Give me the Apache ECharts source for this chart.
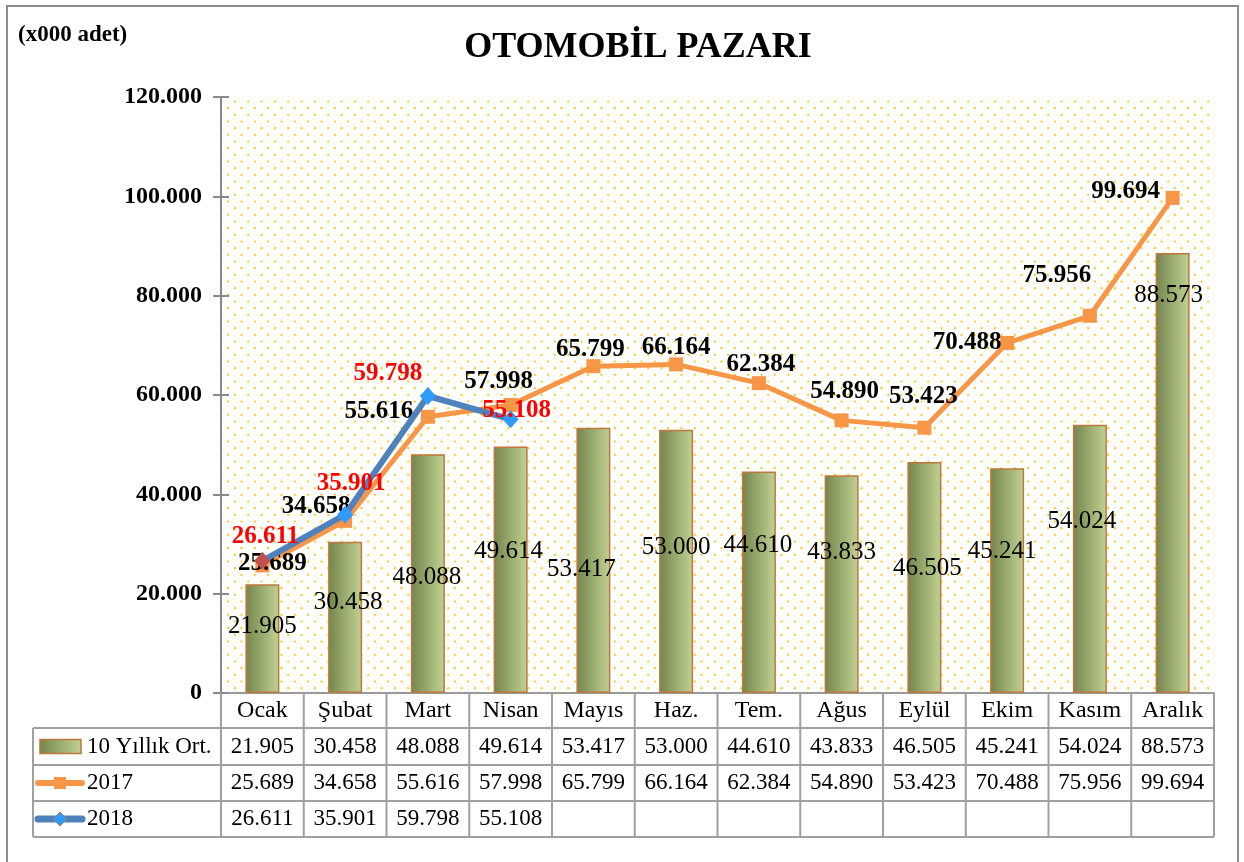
<!DOCTYPE html>
<html>
<head>
<meta charset="utf-8">
<script src="https://cdn.jsdelivr.net/npm/echarts@6/dist/echarts.min.js"></script>
<style>
  html, body { margin: 0; padding: 0; background: #fff; }
  #chart { width: 1244px; height: 862px; }
</style>
</head>
<body>
<div id="chart"></div>
<script>
// data (adet, x000 shown on axis)
const months = ['Ocak', 'Şubat', 'Mart', 'Nisan', 'Mayıs', 'Haz.', 'Tem.', 'Ağus', 'Eylül', 'Ekim', 'Kasım', 'Aralık'];
const avg10 = [21905, 30458, 48088, 49614, 53417, 53000, 44610, 43833, 46505, 45241, 54024, 88573];
const sales2017 = [25689, 34658, 55616, 57998, 65799, 66164, 62384, 54890, 53423, 70488, 75956, 99694];
const sales2018 = [26611, 35901, 59798, 55108];
const seriesNames = ['10 Yıllık Ort.', '2017', '2018'];
const yMin = 0, yMax = 120000, yStep = 20000;

// label nudges (labels were hand-placed in the original)
const barLabelOffset = [[0, 42], [3, 61], [-1, 123], [-2, 105], [-12, 142], [0, 118], [-1, 74], [0, 77], [3, 106], [-5, 83], [-8, 97], [-4, 42]];
const lbl2017Offset = [[10, -2], [-29, -14], [-49, -5], [-12, -23], [-3, -17], [0, -17], [2, -19], [3, -29], [-1, -31], [-40, 0], [-33, -40], [-47, -6]];
const lbl2018Offset = [[3, -24], [6, -31], [-40, -22], [6, -9]];

const FONT = '"Liberation Serif", "DejaVu Serif", serif';
const fmt = v => String(v).replace(/\B(?=(\d{3})+(?!\d))/g, '.');

// dotted plot background
function dotPattern() {
  const c = document.createElement('canvas');
  c.width = 40; c.height = 40;
  const ctx = c.getContext('2d');
  ctx.fillStyle = '#ffc000';
  const s = 40 / 3;
  for (let i = 0; i < 3; i++) {
    for (let j = 0; j < 3; j++) {
      ctx.beginPath(); ctx.arc(i * s + 1.5, j * s + 1.5, 1.05, 0, Math.PI * 2); ctx.fill();
      ctx.beginPath(); ctx.arc(i * s + s / 2 + 1.5, j * s + s / 2 + 1.5, 1.05, 0, Math.PI * 2); ctx.fill();
    }
  }
  return c;
}

const barGradient = () => new echarts.graphic.LinearGradient(0, 0, 1, 0, [
  { offset: 0, color: '#74854d' },
  { offset: 1, color: '#c0d393' }
]);

const chart = echarts.init(document.getElementById('chart'));

chart.setOption({
  animation: false,
  backgroundColor: '#fff',
  grid: {
    left: 221, right: 30, top: 97, bottom: 169,
    show: true, borderWidth: 0,
    backgroundColor: { image: dotPattern(), repeat: 'repeat' }
  },
  xAxis: {
    type: 'category',
    data: months,
    axisLine: { lineStyle: { color: '#9a9a9a', width: 2 } },
    axisTick: { show: false },
    axisLabel: { color: '#000', fontFamily: FONT, fontSize: 24, margin: 6, interval: 0 }
  },
  yAxis: [{
    type: 'value',
    min: yMin, max: yMax, interval: yStep,
    splitLine: { show: false },
    axisLine: { show: true, lineStyle: { color: '#8a8a8a', width: 2 } },
    axisTick: { show: true, length: 8, lineStyle: { color: '#8a8a8a', width: 2 } },
    axisLabel: { color: '#000', fontFamily: FONT, fontWeight: 'bold', fontSize: 24, margin: 19, formatter: fmt }
  }, {
    type: 'value',
    min: yMin, max: yMax, interval: yStep,
    position: 'left',
    splitLine: { show: false },
    axisLine: { show: false },
    axisTick: { show: true, inside: true, length: 8, lineStyle: { color: '#8a8a8a', width: 2 } },
    axisLabel: { show: false }
  }],
  series: [{
    name: seriesNames[0],
    type: 'bar',
    barWidth: 34,
    z: 2,
    itemStyle: { color: barGradient(), borderColor: '#c0773c', borderWidth: 1.5 },
    label: {
      show: true, position: ['50%', 0], align: 'center', verticalAlign: 'middle',
      color: '#000', fontFamily: FONT, fontSize: 25, formatter: p => fmt(p.value)
    },
    data: avg10.map((v, i) => ({ value: v, label: { offset: barLabelOffset[i] } }))
  }, {
    name: seriesNames[1],
    type: 'line',
    z: 3,
    symbol: 'rect',
    symbolSize: 14,
    lineStyle: { color: '#f79646', width: 5 },
    itemStyle: { color: '#f79646' },
    label: {
      show: true, position: ['50%', '50%'], align: 'center', verticalAlign: 'middle',
      color: '#000', fontFamily: FONT, fontWeight: 'bold', fontSize: 25, formatter: p => fmt(p.value)
    },
    data: sales2017.map((v, i) => ({ value: v, label: { offset: lbl2017Offset[i] } }))
  }, {
    name: seriesNames[2],
    type: 'line',
    z: 4,
    symbol: 'diamond',
    symbolSize: [16, 18],
    lineStyle: { color: '#4f81bd', width: 6 },
    itemStyle: { color: '#2e9bff' },
    label: {
      show: true, position: ['50%', '50%'], align: 'center', verticalAlign: 'middle',
      color: '#ff0000', fontFamily: FONT, fontWeight: 'bold', fontSize: 25, formatter: p => fmt(p.value)
    },
    data: sales2018.map((v, i) => ({
      value: v,
      label: { offset: lbl2018Offset[i] },
      itemStyle: i === 0 ? { color: '#c0504d' } : undefined
    }))
  }]
});

// data table under the plot, laid out on the category axis
const xs = months.map((m, i) => chart.convertToPixel({ xAxisIndex: 0 }, i));
const half = (xs[1] - xs[0]) / 2;
const tLeft = xs[0] - half, tRight = xs[xs.length - 1] + half;
const y0 = chart.convertToPixel({ yAxisIndex: 0 }, 0);
const rows = [y0, y0 + 35, y0 + 72, y0 + 108, y0 + 144];
const legLeft = 33;
const gridStroke = { stroke: '#a0a0a0', lineWidth: 2 };

const g = [];
const hline = (x1, x2, y) => g.push({ type: 'line', shape: { x1, y1: y, x2, y2: y }, style: gridStroke, z: 10 });
const vline = (x, y1, y2) => g.push({ type: 'line', shape: { x1: x, y1, x2: x, y2 }, style: gridStroke, z: 10 });

for (let r = 1; r < rows.length; r++) hline(legLeft, tRight, rows[r]);
vline(legLeft, rows[1], rows[4]);
vline(tLeft, rows[0], rows[4]);
for (let i = 0; i < months.length; i++) vline(xs[i] + half, rows[0], rows[4]);

const tableRows = [avg10, sales2017, sales2018];
tableRows.forEach((vals, r) => {
  const cy = (rows[r + 1] + rows[r + 2]) / 2;
  vals.forEach((v, i) => g.push({
    type: 'text', z: 11,
    style: { text: fmt(v), x: xs[i], y: cy, align: 'center', verticalAlign: 'middle', font: '23px ' + FONT, fill: '#000' }
  }));
  g.push({
    type: 'text', z: 11,
    style: { text: seriesNames[r], x: 87, y: cy, align: 'left', verticalAlign: 'middle', font: '23px ' + FONT, fill: '#000' }
  });
});

// legend keys inside the table
const c1 = (rows[1] + rows[2]) / 2, c2 = (rows[2] + rows[3]) / 2, c3 = (rows[3] + rows[4]) / 2;
g.push({ type: 'rect', z: 11, shape: { x: 40, y: c1 - 7, width: 41, height: 14 }, style: { fill: barGradient(), stroke: '#c0773c', lineWidth: 1.5 } });
g.push({ type: 'line', z: 11, shape: { x1: 38, y1: c2, x2: 82, y2: c2 }, style: { stroke: '#f79646', lineWidth: 6, lineCap: 'round' } });
g.push({ type: 'rect', z: 12, shape: { x: 54, y: c2 - 6, width: 12, height: 12 }, style: { fill: '#f79646' } });
g.push({ type: 'line', z: 11, shape: { x1: 38, y1: c3, x2: 82, y2: c3 }, style: { stroke: '#4f81bd', lineWidth: 7, lineCap: 'round' } });
g.push({ type: 'polygon', z: 12, shape: { points: [[60, c3 - 7], [67, c3], [60, c3 + 7], [53, c3]] }, style: { fill: '#2e9bff', stroke: '#b07a50', lineWidth: 1 } });

// titles and frame
g.push({ type: 'text', z: 11, style: { text: 'OTOMOBİL PAZARI', x: 638, y: 48, align: 'center', verticalAlign: 'middle', font: 'bold 36px ' + FONT, fill: '#000' } });
g.push({ type: 'text', z: 11, style: { text: '(x000 adet)', x: 18, y: 35, align: 'left', verticalAlign: 'middle', font: 'bold 23px ' + FONT, fill: '#000' } });
g.push({ type: 'rect', z: 0, shape: { x: 7, y: 6, width: 1231, height: 870 }, style: { fill: 'none', stroke: '#8c8c8c', lineWidth: 2 } });

chart.setOption({ graphic: g });
</script>
</body>
</html>
